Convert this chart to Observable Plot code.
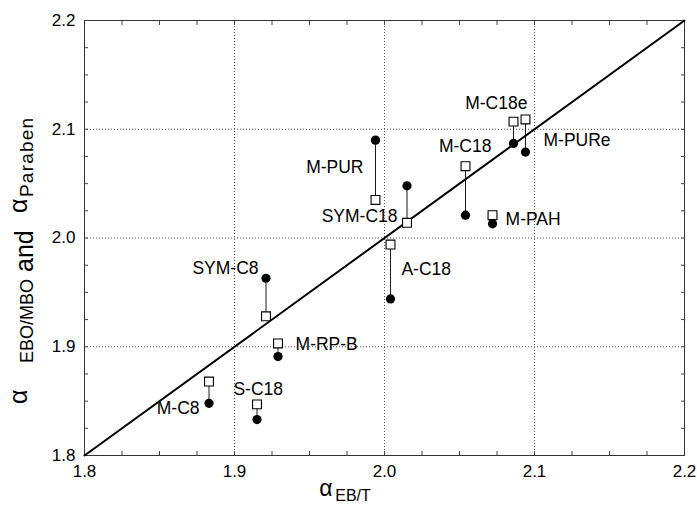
<!DOCTYPE html>
<html>
<head>
<meta charset="utf-8">
<script src="https://cdn.jsdelivr.net/npm/d3@7"></script>
<script src="https://cdn.jsdelivr.net/npm/@observablehq/plot@0.6"></script>
<style>
  html, body { margin: 0; padding: 0; background: #fff; }
  #chart svg { display: block; }
  #chart svg g[aria-label="x-axis tick label"] text,
  #chart svg g[aria-label="y-axis tick label"] text { font-size: 17px !important; }
</style>
</head>
<body>
<div id="chart"></div>
<script>
// ---- data ----
const samples      = ["M-PUR", "SYM-C18", "M-C18", "M-C18e", "M-PURe", "M-PAH", "A-C18", "SYM-C8", "M-RP-B", "M-C8", "S-C18"];
const alphaEBT     = [1.994, 2.015, 2.054, 2.086, 2.094, 2.072, 2.004, 1.921, 1.929, 1.883, 1.915];
const alphaEBOMBO  = [2.035, 2.014, 2.066, 2.107, 2.109, 2.021, 1.994, 1.928, 1.903, 1.868, 1.847];
const alphaParaben = [2.090, 2.048, 2.021, 2.087, 2.079, 2.013, 1.944, 1.963, 1.891, 1.848, 1.833];

// label placement (data coordinates) and side
const labelX     = [1.986, 2.0087, 2.0713, 2.0953, 2.106, 2.0807, 2.0113, 1.916, 1.9407, 1.8767, 1.8993];
const labelY     = [2.065, 2.020, 2.084, 2.124, 2.090, 2.017, 1.971, 1.972, 1.902, 1.843, 1.861];
const labelSide  = ["end", "end", "end", "end", "start", "start", "start", "end", "start", "end", "start"];

const majorTicks = [1.8, 1.9, 2.0, 2.1, 2.2];
const gridTicks  = [1.9, 2.0, 2.1];
const minorTicks = [1.825, 1.85, 1.875, 1.9, 1.925, 1.95, 1.975, 2.0, 2.025, 2.05, 2.075, 2.1, 2.125, 2.15, 2.175];
const diagonal   = [1.8, 2.2];

// ---- tables ----
const rows = samples.map((s, i) => ({
  sample: s, x: alphaEBT[i], ebo: alphaEBOMBO[i], par: alphaParaben[i],
  lx: labelX[i], ly: labelY[i], side: labelSide[i]
}));
const diag = diagonal.map(v => ({x: v, y: v}));

const font = "'Liberation Sans', Arial, Helvetica, sans-serif";

const chart = Plot.plot({
  width: 697,
  height: 506,
  marginLeft: 84,
  marginRight: 13,
  marginTop: 20,
  marginBottom: 51,
  x: {domain: [1.8, 2.2]},
  y: {domain: [1.8, 2.2]},
  style: {fontFamily: font, fontSize: "17px", background: "#fff", color: "#000"},
  marks: [
    Plot.gridX(gridTicks, {stroke: "#555", strokeOpacity: 1, strokeDasharray: "1,2", strokeWidth: 1}),
    Plot.gridY(gridTicks, {stroke: "#555", strokeOpacity: 1, strokeDasharray: "1,2", strokeWidth: 1}),
    Plot.axisX(minorTicks, {anchor: "bottom", tickSize: -4, text: null, label: null, stroke: "#444"}),
    Plot.axisX(minorTicks, {anchor: "top", tickSize: -4, text: null, label: null, stroke: "#444"}),
    Plot.axisY(minorTicks, {anchor: "left", tickSize: -4, text: null, label: null, stroke: "#444"}),
    Plot.axisY(minorTicks, {anchor: "right", tickSize: -4, text: null, label: null, stroke: "#444"}),
    Plot.axisX(majorTicks, {anchor: "bottom", tickSize: 0, tickPadding: 9, tickFormat: d3.format(".1f"), label: null, fontSize: 17}),
    Plot.axisY(majorTicks, {anchor: "left", tickSize: 0, tickPadding: 9, tickFormat: d3.format(".1f"), label: null, fontSize: 17}),
    Plot.frame({stroke: "#333", strokeWidth: 1}),
    Plot.line(diag, {x: "x", y: "y", stroke: "#000", strokeWidth: 2}),
    Plot.link(rows, {x1: "x", x2: "x", y1: "ebo", y2: "par", stroke: "#000", strokeWidth: 0.9}),
    Plot.dot(rows, {x: "x", y: "par", r: 4.6, fill: "#000", stroke: "none"}),
    Plot.dot(rows, {x: "x", y: "ebo", symbol: "square", r: 5, fill: "#fff", stroke: "#000", strokeWidth: 1.1}),
    Plot.text(rows.filter(d => d.side === "end"), {x: "lx", y: "ly", text: "sample", textAnchor: "end", fontSize: 17.5, fill: "#000"}),
    Plot.text(rows.filter(d => d.side === "start"), {x: "lx", y: "ly", text: "sample", textAnchor: "start", fontSize: 17.5, fill: "#000"})
  ]
});

const svg = d3.select(chart);

// larger tick labels
svg.selectAll('g[aria-label="x-axis tick label"], g[aria-label="y-axis tick label"]')
  .attr("font-size", 17).attr("font-family", font)
  .selectAll("text").attr("font-size", 17).style("font-size", "17px");

// y-axis title: α EBO/MBO and α Paraben (rotated pieces)
function rotText(bx, by, size, str, extra) {
  const t = svg.append("text")
    .attr("transform", `translate(${bx},${by}) rotate(-90)`)
    .attr("font-family", font)
    .attr("font-size", size)
    .attr("fill", "#000")
    .attr("text-anchor", "start")
    .text(str);
  if (extra) extra(t);
  return t;
}
rotText(27, 404, 25, "α");
rotText(33, 363, 18, "EBO/MBO");
rotText(33, 272, 25, "and");
rotText(27, 213, 25, "α");
rotText(33, 197, 19, "Paraben", t => t.attr("letter-spacing", 1.2));

// x-axis title: α EB/T
svg.append("text").attr("x", 326).attr("y", 496)
  .attr("font-family", font).attr("font-size", 23).attr("fill", "#000").text("α");
svg.append("text").attr("x", 353).attr("y", 501)
  .attr("font-family", font).attr("font-size", 16).attr("fill", "#000").text("EB/T");

document.getElementById("chart").appendChild(chart);
</script>
</body>
</html>
